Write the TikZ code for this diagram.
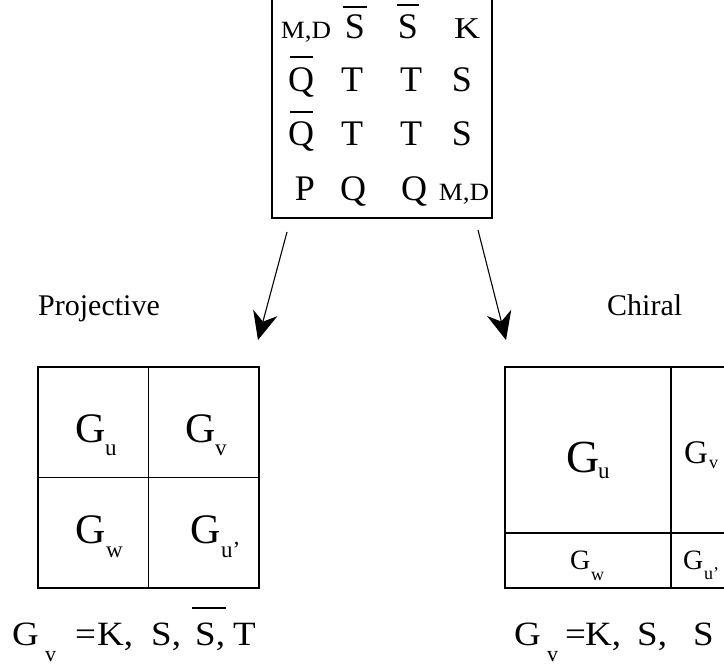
\documentclass[tikz,border=0pt]{standalone}
\usepackage{fontspec}
\setmainfont{Liberation Serif}
\usetikzlibrary{arrows.meta}
\tikzset{
  tb/.style={inner sep=0pt, anchor=base},
  tw/.style={inner sep=0pt, anchor=base west},
  fA/.style={font=\fontsize{36}{36}\selectfont},
  fMD/.style={font=\fontsize{27}{27}\selectfont},
  fG/.style={font=\fontsize{42}{42}\selectfont},
  fGb/.style={font=\fontsize{46}{46}\selectfont},
  fGs/.style={font=\fontsize{33}{33}\selectfont},
  fGt/.style={font=\fontsize{28}{28}\selectfont},
  fsub/.style={font=\fontsize{23}{23}\selectfont},
  fsubs/.style={font=\fontsize{18}{18}\selectfont},
  fF/.style={font=\fontsize{37}{37}\selectfont},
  fFs/.style={font=\fontsize{22}{22}\selectfont},
  fL/.style={font=\fontsize{30}{30}\selectfont},
  boxline/.style={draw, line width=1.7pt, inner sep=0pt},
  gridline/.style={draw, line width=1.3pt, inner sep=0pt},
  bar/.style={line width=1.8pt},
  arr/.style={line width=1.1pt, -{Stealth[length=28pt, width=25pt, inset=9pt]}}
}
\newcommand{\squishK}{\scalebox{1}[0.84]{K}}
\newcommand{\squishMD}{\scalebox{1}[0.92]{M,D}}
\newcommand{\fsq}[1]{\scalebox{1}[0.92]{#1}}
\begin{document}
\begin{tikzpicture}[x=1pt, y=-1pt]
\useasboundingbox[fill=white] (0,0) rectangle (724,666);

% top box
\node[boxline, minimum width=220pt, minimum height=222pt] (top) at (382,107) {};
% row 1
\node[tb, fMD] (r1a) at (306,39) {\squishMD};
\node[tb, fA] (r1b) at (355,39) {S};
\node[tb, fA] (r1c) at (408,39) {S};
\node[tb, fA] (r1d) at (467,39) {\squishK};
% row 2
\node[tb, fA] (r2a) at (301,92) {Q};
\node[tb, fA] (r2b) at (352,92) {T};
\node[tb, fA] (r2c) at (411,92) {T};
\node[tb, fA] (r2d) at (462,92) {S};
% row 3
\node[tb, fA] (r3a) at (301,146) {Q};
\node[tb, fA] (r3b) at (352,146) {T};
\node[tb, fA] (r3c) at (411,146) {T};
\node[tb, fA] (r3d) at (462,146) {S};
% row 4
\node[tb, fA] (r4a) at (305,201) {P};
\node[tb, fA] (r4b) at (353,201) {Q};
\node[tb, fA] (r4c) at (414,201) {Q};
\node[tb, fMD] (r4d) at (464,201) {\squishMD};
% bars
\draw[bar] (343,7) -- (367,7);
\draw[bar] (397,5) -- (419,5);
\draw[bar] (290,57) -- (313,57);
\draw[bar] (290,112) -- (313,112);

% arrows
\coordinate (la) at (287,232);
\coordinate (lb) at (258,340);
\coordinate (ra) at (478,230);
\coordinate (rb) at (506,340);
\draw[arr] (la) -- (lb);
\draw[arr] (ra) -- (rb);

% labels
\node[tw, fL] (proj) at (38,316) {Projective};
\node[tw, fL] (chir) at (607,316) {Chiral};

% left grid
\node[gridline, minimum width=221pt, minimum height=221pt] (lg) at (148.5,477.5) {};
\draw[line width=1.3pt] (lg.north) -- (lg.south);
\draw[line width=1.3pt] (lg.west) -- (lg.east);
\node[tw, fG] (lgu) at (75,442) {G};
\node[tw, fsub] (lgus) at (105,455) {u};
\node[tw, fG] (lgv) at (185,442) {G};
\node[tw, fsub] (lgvs) at (215,455) {v};
\node[tw, fG] (lgw) at (75,543) {G};
\node[tw, fsub] (lgws) at (106,557) {w};
\node[tw, fG] (lgx) at (190,543) {G};
\node[tw, fsub] (lgxs) at (221,557) {u'};

% right grid
\node[gridline, minimum width=335pt, minimum height=221pt] (rg) at (672.5,477.5) {};
\draw[line width=1.3pt] (671,367) -- (671,588);
\draw[line width=1.3pt] (505,533) -- (740,533);
\node[tw, fGb] (rgu) at (566,472) {G};
\node[tw, fsub] (rgus) at (598,478) {u};
\node[tw, fGs] (rgv) at (684,463) {G};
\node[tw, fsubs] (rgvs) at (709,468) {v};
\node[tw, fGt] (rgw) at (570,569) {G};
\node[tw, fsubs] (rgws) at (591,580) {w};
\node[tw, fGt] (rgx) at (683,569) {G};
\node[tw, fsubs] (rgxs) at (704,579) {u'};

% bottom formulas
\node[tw, fF] (fl1) at (12,645) {\fsq{G}};
\node[tw, fFs] (fl2) at (45,661) {v};
\node[tw, fF] (fl3) at (75,645) {\fsq{=}};
\node[tw, fF] (fl4) at (97,645) {\fsq{K,}};
\node[tw, fF] (fl5) at (151,645) {\fsq{S,}};
\node[tw, fF] (fl6) at (195,645) {\fsq{S,}};
\node[tw, fF] (fl7) at (233,645) {\fsq{T}};
\draw[line width=2.5pt] (192,608) -- (226,608);

\node[tw, fF] (fr1) at (514,645) {\fsq{G}};
\node[tw, fFs] (fr2) at (547,661) {v};
\node[tw, fF] (fr3) at (565,645) {\fsq{=}};
\node[tw, fF] (fr4) at (585,645) {\fsq{K,}};
\node[tw, fF] (fr5) at (637,645) {\fsq{S,}};
\node[tw, fF] (fr6) at (693,645) {\fsq{S}};
\end{tikzpicture}
\end{document}
